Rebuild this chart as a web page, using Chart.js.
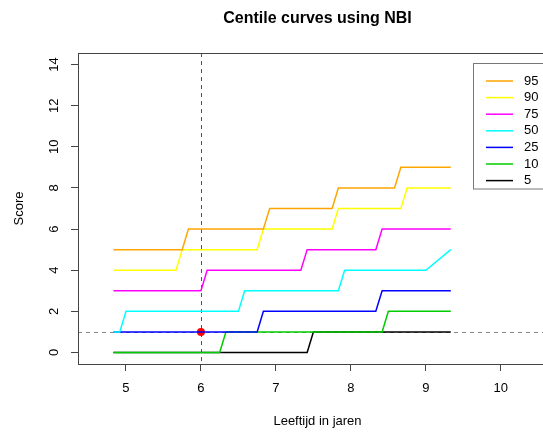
<!DOCTYPE html>
<html>
<head>
<meta charset="utf-8">
<script src="https://cdn.jsdelivr.net/npm/chart.js@4/dist/chart.umd.min.js"></script>
<style>
  html, body { margin: 0; padding: 0; overflow: hidden; background: #fff; width: 543px; height: 432px; }
  canvas { display: block; }
</style>
</head>
<body>
<canvas id="c" width="600" height="432" style="width:600px;height:432px"></canvas>
<script>
// ---- text ----
const chartTitle = 'Centile curves using NBI';
const xAxisTitle = 'Leeftijd in jaren';
const yAxisTitle = 'Score';

// ---- series (centile labels and colours) ----
const centiles = ['95', '90', '75', '50', '25', '10', '5'];
const colors = ['#FFA500', '#FFFF00', '#FF00FF', '#00FFFF', '#0000FF', '#00CD00', '#000000'];

// ---- step-curve vertices: age (years) and score ----
const age95 = [4.833, 5.75, 5.833, 6.833, 6.917, 7.75, 7.833, 8.583, 8.667, 9.333];
const score95 = [5, 5, 6, 6, 7, 7, 8, 8, 9, 9];
const age90 = [4.833, 5.667, 5.75, 6.75, 6.833, 7.75, 7.833, 8.667, 8.75, 9.333];
const score90 = [4, 4, 5, 5, 6, 6, 7, 7, 8, 8];
const age75 = [4.833, 6.0, 6.083, 7.333, 7.417, 8.333, 8.417, 9.333];
const score75 = [3, 3, 4, 4, 5, 5, 6, 6];
const age50 = [4.833, 4.917, 5.0, 6.5, 6.583, 7.833, 7.917, 9.0, 9.333];
const score50 = [1, 1, 2, 2, 3, 3, 4, 4, 5];
const age25 = [4.833, 6.75, 6.833, 8.333, 8.417, 9.333];
const score25 = [1, 1, 2, 2, 3, 3];
const age10 = [4.833, 6.25, 6.333, 8.417, 8.5, 9.333];
const score10 = [0, 0, 1, 1, 2, 2];
const age5 = [4.833, 7.417, 7.5, 9.333];
const score5 = [0, 0, 1, 1];

// ---- the child's observation (reference lines + red point) ----
const childAge = 6;
const childScore = 1;

// ---- axes ----
const xMin = 4.36, xMax = 10.75;
const yMin = -0.56, yMax = 14.56;
const xTicks = [5, 6, 7, 8, 9, 10];
const yTicks = [0, 2, 4, 6, 8, 10, 12, 14];

const FONT = "'Liberation Sans', Arial, Helvetica, sans-serif";
const TXT = 13;
const LW = 1.5;

const ages = [age95, age90, age75, age50, age25, age10, age5];
const scores = [score95, score90, score75, score50, score25, score10, score5];

const datasets = centiles.map((c, i) => ({
  label: c,
  data: ages[i].map((a, k) => ({ x: a, y: scores[i][k] })),
  borderColor: colors[i],
  backgroundColor: colors[i],
  borderWidth: LW,
  pointRadius: 0,
  tension: 0,
  fill: false
}));
const refIndex = datasets.length;
datasets.push({
  label: 'child',
  data: [{ x: childAge, y: childScore }],
  showLine: false,
  pointRadius: 4,
  pointBackgroundColor: '#FF0000',
  pointBorderColor: '#FF0000',
  pointBorderWidth: 0,
  borderColor: '#FF0000',
  backgroundColor: '#FF0000'
});

const deco = {
  id: 'deco',
  beforeDatasetDraw(chart, args) {
    if (args.index !== refIndex) return;
    const { ctx, chartArea: a, scales: { x, y } } = chart;
    ctx.save();
    ctx.beginPath();
    ctx.rect(a.left, a.top, a.right - a.left, a.bottom - a.top);
    ctx.clip();
    ctx.lineWidth = 1;
    ctx.setLineDash([4, 4]);
    const px = Math.round(x.getPixelForValue(childAge)) + 0.5;
    ctx.strokeStyle = '#555';
    ctx.beginPath();
    ctx.moveTo(px, a.top);
    ctx.lineTo(px, a.bottom);
    ctx.stroke();
    const py = Math.round(y.getPixelForValue(childScore)) + 0.5;
    ctx.strokeStyle = '#888';
    ctx.beginPath();
    ctx.moveTo(a.left, py);
    ctx.lineTo(a.right, py);
    ctx.stroke();
    ctx.restore();
  },
  afterDraw(chart) {
    const { ctx, chartArea: a } = chart;
    ctx.save();
    // plot box
    ctx.strokeStyle = '#444';
    ctx.lineWidth = 1;
    ctx.setLineDash([]);
    ctx.strokeRect(Math.round(a.left) + 0.5, Math.round(a.top) + 0.5,
                   Math.round(a.right - a.left), Math.round(a.bottom - a.top));
    // title
    ctx.fillStyle = '#000';
    ctx.font = 'bold 16px ' + FONT;
    ctx.textAlign = 'center';
    ctx.textBaseline = 'middle';
    ctx.fillText(chartTitle, (a.left + a.right) / 2, 19);
    // legend
    const lx = 473.5, ly = 63.5, lw = 110, lh = 125.5;
    ctx.strokeStyle = '#777';
    ctx.strokeRect(lx, ly, lw, lh);
    ctx.font = TXT + 'px ' + FONT;
    ctx.textAlign = 'left';
    ctx.textBaseline = 'middle';
    chart.data.datasets.slice(0, centiles.length).forEach((ds, i) => {
      const yy = 81 + i * 16.6;
      ctx.strokeStyle = ds.borderColor;
      ctx.lineWidth = LW;
      ctx.beginPath();
      ctx.moveTo(486, yy);
      ctx.lineTo(513, yy);
      ctx.stroke();
      ctx.fillStyle = '#000';
      ctx.fillText(ds.label, 524, yy);
    });
    ctx.restore();
  }
};

const gridOpts = { drawOnChartArea: false, drawTicks: true, tickLength: 7, color: '#444', lineWidth: 1 };

new Chart(document.getElementById('c'), {
  type: 'line',
  data: { datasets },
  options: {
    responsive: false,
    animation: false,
    events: [],
    layout: { padding: { left: 0, top: 53, right: 43, bottom: 0 } },
    plugins: { legend: { display: false }, tooltip: { enabled: false }, title: { display: false } },
    scales: {
      x: {
        type: 'linear',
        min: xMin, max: xMax,
        afterBuildTicks: s => { s.ticks = xTicks.map(v => ({ value: v })); },
        afterFit: s => { s.height = 68; },
        grid: gridOpts,
        border: { display: false },
        ticks: { color: '#000', font: { family: FONT, size: TXT }, padding: 10, maxRotation: 0, autoSkip: false,
                 callback: v => String(v) },
        title: { display: true, text: xAxisTitle, color: '#000', font: { family: FONT, size: TXT },
                 padding: { top: 0, bottom: 3 } }
      },
      y: {
        type: 'linear',
        min: yMin, max: yMax,
        afterBuildTicks: s => { s.ticks = yTicks.map(v => ({ value: v })); },
        afterFit: s => { s.width = 78; },
        grid: gridOpts,
        border: { display: false },
        ticks: { color: '#000', font: { family: FONT, size: TXT }, padding: 9, minRotation: 90, maxRotation: 90,
                 crossAlign: 'center', autoSkip: false, callback: v => String(v) },
        title: { display: true, text: yAxisTitle, color: '#000', font: { family: FONT, size: TXT },
                 padding: { top: 12, bottom: 0 } }
      }
    }
  },
  plugins: [deco]
});
</script>
</body>
</html>
